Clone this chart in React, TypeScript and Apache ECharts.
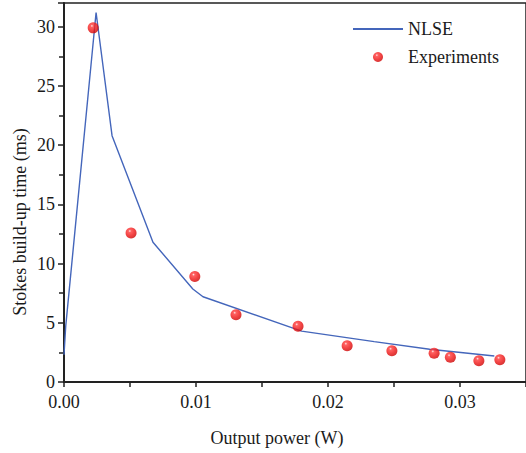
import React, { useEffect, useRef } from "react";
import * as echarts from "echarts";

const nlseX = [0, 0.00013, 0.00243, 0.00364, 0.00674, 0.00976, 0.01053, 0.018, 0.0235, 0.0277, 0.0326];
const nlseY = [2.3, 4.7, 31.2, 20.8, 11.8, 7.85, 7.2, 4.3, 3.41, 2.76, 2.2];

const expX = [0.00221, 0.00508, 0.00991, 0.01303, 0.01773, 0.02145, 0.02484, 0.02804, 0.02927, 0.03143, 0.03302];
const expY = [29.9, 12.58, 8.9, 5.68, 4.7, 3.07, 2.64, 2.42, 2.09, 1.8, 1.88];

const xTickLabels = ["0.00", "0.01", "0.02", "0.03"];
const xAxisTitle = "Output power (W)";
const yAxisTitle = "Stokes build-up time (ms)";

const FONT = "'Liberation Serif', 'Times New Roman', serif";
const TXT = "#1a1a1a";

export default function App() {
  const ref = useRef<HTMLDivElement>(null);
  useEffect(() => {
    document.body.style.margin = "0";
    const chart = echarts.init(ref.current!, null, { renderer: "svg" });
    const dot = new echarts.graphic.RadialGradient(0.38, 0.32, 0.72, [
      { offset: 0, color: "#ffe4e4" },
      { offset: 0.18, color: "#ff3a3a" },
      { offset: 0.6, color: "#ee1414" },
      { offset: 1, color: "#c80000" },
    ]);
    chart.setOption({
      animation: false,
      backgroundColor: "#ffffff",
      grid: {
        left: 64,
        right: -9,
        top: 3,
        bottom: 71,
        show: true,
        borderColor: "#222",
        borderWidth: 1.5,
      },
      legend: {
        left: 347,
        top: 15,
        orient: "vertical",
        itemWidth: 50,
        itemHeight: 10,
        itemGap: 10,
        textStyle: { fontFamily: FONT, fontSize: 18, color: TXT },
        data: [
          { name: "NLSE", itemStyle: { opacity: 0 } },
          { name: "Experiments" },
        ],
      },
      xAxis: {
        type: "value",
        min: 0,
        max: 0.035,
        interval: 0.01,
        axisLine: { show: true, lineStyle: { color: "#222", width: 2 } },
        axisTick: { show: true, inside: false, length: 5, lineStyle: { color: "#222", width: 1.5 } },
        minorTick: { show: true, splitNumber: 2, length: 5, lineStyle: { color: "#222", width: 1.5 } },
        splitLine: { show: false },
        axisLabel: {
          showMaxLabel: false,
          margin: 11,
          fontFamily: FONT,
          fontSize: 18,
          color: TXT,
          formatter: (v: number) => {
            const i = Math.round(v / 0.01);
            return Math.abs(v - i * 0.01) < 1e-9 && xTickLabels[i] ? xTickLabels[i] : "";
          },
        },
      },
      yAxis: {
        type: "value",
        min: 0,
        max: 32,
        interval: 5,
        axisLine: { show: true, lineStyle: { color: "#222", width: 2 } },
        axisTick: { show: true, inside: false, length: 6, lineStyle: { color: "#222", width: 1.5 } },
        minorTick: { show: true, splitNumber: 2, length: 5, lineStyle: { color: "#222", width: 1.5 } },
        splitLine: { show: false },
        axisLabel: {
          showMaxLabel: false,
          margin: 9,
          fontFamily: FONT,
          fontSize: 18,
          color: TXT,
        },
      },
      graphic: [
        {
          type: "text",
          x: 277,
          y: 438,
          style: {
            text: xAxisTitle,
            fontFamily: FONT,
            fontSize: 18,
            fill: TXT,
            align: "center",
            verticalAlign: "middle",
          },
        },
        {
          type: "text",
          x: 20,
          y: 222,
          rotation: Math.PI / 2,
          style: {
            text: yAxisTitle,
            fontFamily: FONT,
            fontSize: 18,
            fill: TXT,
            align: "center",
            verticalAlign: "middle",
          },
        },
      ],
      series: [
        {
          name: "NLSE",
          type: "line",
          data: nlseX.map((x, i) => [x, nlseY[i]]),
          showSymbol: false,
          symbol: "none",
          lineStyle: { color: "#4466bb", width: 1.4 },
          itemStyle: { color: "#4466bb" },
          z: 2,
        },
        {
          name: "Experiments",
          type: "scatter",
          data: expX.map((x, i) => [x, expY[i]]),
          symbolSize: 11,
          itemStyle: { color: dot },
          z: 3,
        },
      ],
    });
    return () => chart.dispose();
  }, []);
  return <div ref={ref} style={{ width: 526, height: 453 }} />;
}
